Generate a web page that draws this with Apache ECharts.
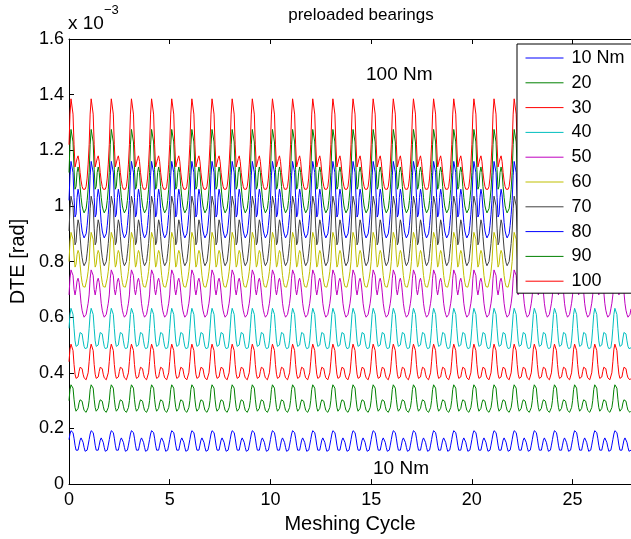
<!DOCTYPE html>
<html>
<head>
<meta charset="utf-8">
<title>preloaded bearings</title>
<script src="https://cdn.jsdelivr.net/npm/echarts@6/dist/echarts.min.js"></script>
<style>
  html, body { margin: 0; padding: 0; background: #fff; }
  #chart { width: 631px; height: 539px; }
</style>
</head>
<body>
<div id="chart"></div>
<script>
// Dynamic transmission error (DTE, in units of 1e-3 rad) over one meshing cycle,
// sampled every 0.05 cycle, for each torque level. The signal is steady-state periodic.
const sampleStep = 0.05;
const xMax = 27.9;
const nCycles = 28;

const seriesNames = ['10 Nm', '20', '30', '40', '50', '60', '70', '80', '90', '100'];
const seriesColors = ['#0000FF', '#008000', '#FF0000', '#00BFBF', '#BF00BF', '#BFBF00', '#404040', '#0000FF', '#008000', '#FF0000'];

const cycle10 = [0.160, 0.180, 0.192, 0.195, 0.185, 0.165, 0.140, 0.122, 0.115, 0.122, 0.140, 0.158, 0.166, 0.163, 0.150, 0.132, 0.118, 0.115, 0.122, 0.140];
const cycle20 = [0.300, 0.340, 0.357, 0.360, 0.345, 0.305, 0.275, 0.262, 0.260, 0.272, 0.292, 0.303, 0.305, 0.298, 0.280, 0.265, 0.259, 0.258, 0.262, 0.275];
const cycle30 = [0.440, 0.485, 0.503, 0.505, 0.480, 0.430, 0.395, 0.380, 0.378, 0.385, 0.405, 0.420, 0.425, 0.415, 0.395, 0.382, 0.377, 0.375, 0.380, 0.400];
const cycle40 = [0.560, 0.610, 0.632, 0.635, 0.610, 0.560, 0.515, 0.495, 0.490, 0.500, 0.525, 0.545, 0.550, 0.540, 0.515, 0.495, 0.487, 0.485, 0.490, 0.515];
const cycle50 = [0.680, 0.740, 0.770, 0.775, 0.750, 0.700, 0.680, 0.700, 0.730, 0.740, 0.725, 0.690, 0.650, 0.625, 0.610, 0.600, 0.603, 0.610, 0.630, 0.650];
const cycle60 = [0.800, 0.870, 0.905, 0.910, 0.880, 0.820, 0.780, 0.790, 0.825, 0.840, 0.830, 0.790, 0.750, 0.725, 0.710, 0.705, 0.708, 0.715, 0.740, 0.765];
const cycle70 = [0.910, 0.990, 1.035, 1.040, 1.000, 0.920, 0.860, 0.870, 0.920, 0.950, 0.935, 0.890, 0.845, 0.815, 0.795, 0.785, 0.790, 0.800, 0.830, 0.865];
const cycle80 = [1.020, 1.110, 1.160, 1.165, 1.120, 1.030, 0.960, 0.970, 1.030, 1.060, 1.040, 0.990, 0.940, 0.910, 0.895, 0.885, 0.890, 0.900, 0.930, 0.970];
const cycle90 = [1.120, 1.220, 1.275, 1.280, 1.230, 1.130, 1.060, 1.070, 1.120, 1.140, 1.120, 1.070, 1.030, 1.000, 0.985, 0.975, 0.980, 0.990, 1.020, 1.060];
const cycle100 = [1.220, 1.330, 1.385, 1.390, 1.330, 1.220, 1.140, 1.140, 1.170, 1.180, 1.160, 1.120, 1.090, 1.070, 1.060, 1.055, 1.060, 1.070, 1.100, 1.150];

const cycles = [cycle10, cycle20, cycle30, cycle40, cycle50, cycle60, cycle70, cycle80, cycle90, cycle100];

const xTicks = [0, 5, 10, 15, 20, 25];
const yTicks = [0, 0.2, 0.4, 0.6, 0.8, 1, 1.2, 1.4, 1.6];

// Repeat one measured cycle over the whole record
function repeatCycle(profile) {
  const pts = [];
  for (let c = 0; c < nCycles; c++) {
    for (let i = 0; i < profile.length; i++) {
      const x = +(c + i * sampleStep).toFixed(4);
      if (x <= xMax) pts.push([x, profile[i]]);
    }
  }
  return pts;
}

const font = 'Liberation Sans, Arial, Helvetica, sans-serif';
const chart = echarts.init(document.getElementById('chart'), null, { renderer: 'canvas' });

const series = cycles.map((profile, k) => ({
  name: seriesNames[k],
  type: 'line',
  data: repeatCycle(profile),
  symbol: 'none',
  showSymbol: false,
  smooth: false,
  animation: false,
  lineStyle: { color: seriesColors[k], width: 1 },
  itemStyle: { color: seriesColors[k] },
  z: 2
}));

const option = {
  backgroundColor: '#ffffff',
  animation: false,
  title: {
    text: 'preloaded bearings',
    left: 356, top: 2, textAlign: 'center',
    textStyle: { fontFamily: font, fontSize: 17, fontWeight: 'normal', color: '#000' }
  },
  grid: { left: 69, right: 0, top: 39, bottom: 53, containLabel: false },
  legend: {
    data: seriesNames,
    orient: 'vertical',
    left: 517, top: 44,
    padding: [5, 60, 3, 8],
    itemWidth: 38, itemHeight: 16, itemGap: 6.8,
    backgroundColor: '#ffffff',
    borderColor: '#000000', borderWidth: 1, borderRadius: 0,
    itemStyle: { opacity: 0 },
    lineStyle: { width: 1 },
    textStyle: { fontFamily: font, fontSize: 18, color: '#000', padding: [0, 0, 0, 3] },
    z: 10
  },
  xAxis: [{
    type: 'value', min: 0, max: xMax, interval: 5,
    position: 'bottom',
    name: 'Meshing Cycle', nameLocation: 'middle', nameGap: 26,
    nameTextStyle: { fontFamily: font, fontSize: 20, color: '#000' },
    axisLine: { show: true, onZero: false, lineStyle: { color: '#000', width: 1 } },
    axisTick: { show: true, inside: true, length: 5, lineStyle: { color: '#000' }, customValues: xTicks },
    axisLabel: { fontFamily: font, fontSize: 18, color: '#000', margin: 7, customValues: xTicks },
    splitLine: { show: false }
  }, {
    type: 'value', min: 0, max: xMax, interval: 5,
    position: 'top',
    axisLine: { show: true, onZero: false, lineStyle: { color: '#000', width: 1 } },
    axisTick: { show: true, inside: true, length: 5, lineStyle: { color: '#000' }, customValues: xTicks },
    axisLabel: { show: false },
    splitLine: { show: false }
  }],
  yAxis: {
    type: 'value', min: 0, max: 1.6, interval: 0.2,
    name: 'DTE [rad]', nameLocation: 'middle', nameGap: 40, nameRotate: 90,
    nameTextStyle: { fontFamily: font, fontSize: 20, color: '#000' },
    axisLine: { show: true, onZero: false, lineStyle: { color: '#000', width: 1 } },
    axisTick: { show: true, inside: true, length: 5, lineStyle: { color: '#000' }, customValues: yTicks },
    axisLabel: { fontFamily: font, fontSize: 18, color: '#000', margin: 5, customValues: yTicks },
    splitLine: { show: false }
  },
  graphic: [
    {
      type: 'text', left: 68, top: 4, z: 20,
      style: {
        text: '{a|x 10}{b|\u22123}',
        rich: {
          a: { fontFamily: font, fontSize: 19, fill: '#000', verticalAlign: 'bottom', padding: [10, 0, 0, 0] },
          b: { fontFamily: font, fontSize: 13, fill: '#000', verticalAlign: 'top' }
        }
      }
    },
    {
      type: 'text', left: 366, top: 65, z: 20,
      style: { text: '100 Nm', fontFamily: font, fontSize: 19, fill: '#000' }
    },
    {
      type: 'text', left: 373, top: 459, z: 20,
      style: { text: '10 Nm', fontFamily: font, fontSize: 19, fill: '#000' }
    }
  ],
  series: series
};

chart.setOption(option);
</script>
</body>
</html>
